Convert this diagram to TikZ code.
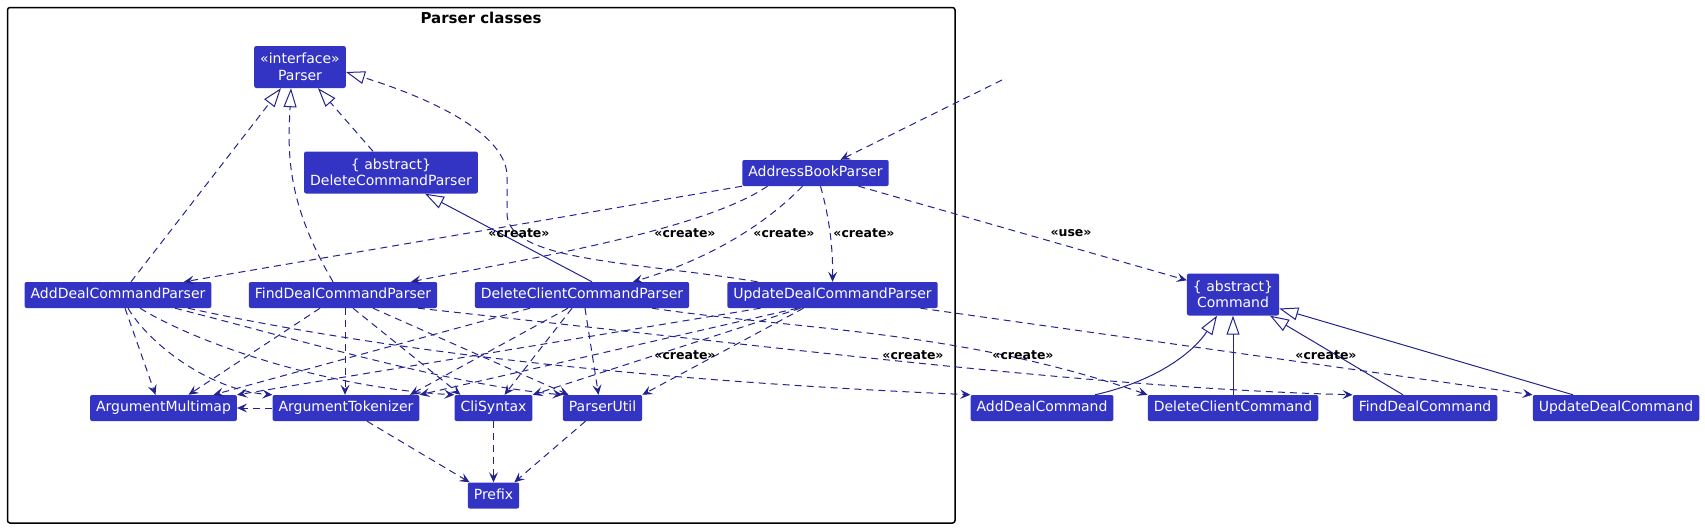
\documentclass[tikz,border=0pt]{standalone}
\usepackage{fontspec}
\setmainfont{DejaVu Sans}
\definecolor{boxblue}{HTML}{3333C4}
\definecolor{linkblue}{HTML}{23238F}
\usetikzlibrary{calc, arrows.meta}

\begin{document}
\begin{tikzpicture}[x=1pt, y=-1pt,
  base/.style={fill=boxblue, text=white, rounded corners=2pt, inner xsep=6pt,
               inner ysep=4pt, align=center, font=\fontsize{14}{16.5}\selectfont},
  cls/.style={base, minimum height=26pt, text height=10.5pt, text depth=3pt},
  abscls/.style={base, minimum height=42pt},
  lbl/.style={font=\bfseries\fontsize{12.5}{14}\selectfont},
  dep/.style={linkblue, line width=1pt, dash pattern=on 7pt off 5pt,
              -{Stealth[length=10pt, width=9pt, inset=4pt]}},
  impl/.style={linkblue, line width=1pt, dash pattern=on 7pt off 5pt,
               -{Triangle[open, length=19pt, width=13pt]}},
  ext/.style={linkblue, line width=1pt, -{Triangle[open, length=19pt, width=13pt]}},
]
\useasboundingbox (0,0) rectangle (1705,530);

\draw[black, line width=1.5pt, rounded corners=2.5pt] (7.5,7.5) rectangle (955,523);
\node[font=\bfseries\fontsize{15}{17}\selectfont] (title) at (481,18) {Parser classes};

\node[abscls] (parser) at (300,67) {«interface»\\Parser};
\node[abscls] (dcp) at (391,172.5) {\{ abstract\}\\DeleteCommandParser};
\node[cls] (abp) at (815.5,173) {AddressBookParser};
\coordinate (entry) at (1002,80);

\node[cls] (adcp) at (118,295) {AddDealCommandParser};
\node[cls] (fdcp) at (343,295) {FindDealCommandParser};
\node[cls] (dccp) at (582,295) {DeleteClientCommandParser};
\node[cls] (udcp) at (832.5,295) {UpdateDealCommandParser};

\node[cls] (am) at (163.5,408) {ArgumentMultimap};
\node[cls] (at) at (346,408) {ArgumentTokenizer};
\node[cls] (cs) at (493.5,408) {CliSyntax};
\node[cls] (pu) at (602.5,408) {ParserUtil};
\node[cls] (prefix) at (493.5,495.5) {Prefix};

\node[abscls] (cmd) at (1233,294.5) {\{ abstract\}\\Command};
\node[cls] (adc) at (1042,408) {AddDealCommand};
\node[cls] (dcc) at (1233,408) {DeleteClientCommand};
\node[cls] (fdc) at (1425,408) {FindDealCommand};
\node[cls] (udc) at (1616,408) {UpdateDealCommand};

\draw[impl] ([xshift=13pt]adcp.north) -- ([xshift=-19pt]parser.south);
\draw[impl] ([xshift=-10pt]fdcp.north) .. controls (285,200) and (288,150) .. ([xshift=-9pt]parser.south);
\draw[impl] ([xshift=-18pt]dcp.north) -- ([xshift=18pt]parser.south);
\draw[impl] ([xshift=-75pt]udcp.north) .. controls (640,262) and (510,262) .. (507,215)
  -- (507,175) .. controls (505,130) and (420,95) .. ([yshift=-5pt]parser.east);
\draw[ext] ([xshift=10pt]dccp.north) -- ([xshift=34pt]dcp.south);

\draw[dep] (entry) -- ([xshift=25pt]abp.north);
\draw[dep] (abp.south west) -- ([xshift=66pt]adcp.north);
\draw[dep] ([xshift=-48pt]abp.south) .. controls (700,232) and (510,262) .. ([xshift=68pt]fdcp.north);
\draw[dep] ([xshift=-13pt]abp.south) .. controls (760,230) and (700,262) .. ([xshift=51pt]dccp.north);
\draw[dep] ([xshift=5pt]abp.south) .. controls (830,220) and (833,250) .. (udcp.north);
\draw[dep] ([xshift=43pt]abp.south) -- ([yshift=-7pt]cmd.north west);

\draw[dep] ([xshift=7pt]adcp.south) -- ([xshift=-8pt]am.north);
\draw[dep] ([xshift=10pt]adcp.south) .. controls (150,345) and (210,390) .. (at.north west);
\draw[dep] ([xshift=22pt]adcp.south) .. controls (200,345) and (330,388) .. (cs.north west);
\draw[dep] ([xshift=57pt]adcp.south) .. controls (300,340) and (450,385) .. (pu.north west);
\draw[dep] ([xshift=70pt]adcp.south) .. controls (450,365) and (750,385) .. (adc.north west);

\draw[dep] ([xshift=-23pt]fdcp.south) -- ([xshift=25pt]am.north);
\draw[dep] ([xshift=2pt]fdcp.south) -- ([xshift=-1pt]at.north);
\draw[dep] ([xshift=10pt]fdcp.south) -- ([xshift=-33pt]cs.north);
\draw[dep] ([xshift=30pt]fdcp.south) -- ([xshift=-34pt]pu.north);
\draw[dep] ([xshift=75pt]fdcp.south) .. controls (800,350) and (1100,388) .. (fdc.north west);

\draw[dep] ([xshift=-52pt]dccp.south) -- ([xshift=50pt]am.north);
\draw[dep] ([xshift=-14pt]dccp.south) -- ([xshift=64pt]at.north);
\draw[dep] ([xshift=-10pt]dccp.south) -- ([xshift=11pt]cs.north);
\draw[dep] ([xshift=3pt]dccp.south) -- ([xshift=-4pt]pu.north);
\draw[dep] ([xshift=70pt]dccp.south) .. controls (800,330) and (960,330) .. (dcc.north west);

\draw[dep] ([xshift=-72pt]udcp.south) -- (am.north east);
\draw[dep] ([xshift=-35pt]udcp.south) -- (at.north east);
\draw[dep] ([xshift=-32pt]udcp.south) -- (cs.north east);
\draw[dep] ([xshift=-29pt]udcp.south) -- (pu.north east);
\draw[dep] ([xshift=88pt]udcp.south) -- (udc.north west);

\draw[dep] (at.west) -- (am.east);
\draw[dep] ([xshift=21pt]at.south) -- ([xshift=2pt]prefix.north west);
\draw[dep] (cs.south) -- (prefix.north);
\draw[dep] ([xshift=-17pt]pu.south) -- ([xshift=-5pt]prefix.north east);

\draw[ext] ([xshift=53pt]adc.north) .. controls (1160,380) and (1195,350) .. ([xshift=-16pt]cmd.south);
\draw[ext] (dcc.north) -- (cmd.south);
\draw[ext] ([xshift=-22pt]fdc.north) -- ([xshift=37pt]cmd.south);
\draw[ext] ([xshift=-43pt]udc.north) -- ([yshift=-14pt]cmd.east);

\node[lbl] (lcadd) at (519,233) {«create»};
\node[lbl] (lcfind) at (685,233) {«create»};
\node[lbl] (lcdel) at (784,233) {«create»};
\node[lbl] (lcupd) at (864,233) {«create»};
\node[lbl] (luse) at (1071,233) {«use»};
\node[lbl] (lcaddcmd) at (685,355) {«create»};
\node[lbl] (lcfindcmd) at (913,355) {«create»};
\node[lbl] (lcdelcmd) at (1023,355) {«create»};
\node[lbl] (lcupdcmd) at (1326,355) {«create»};
\end{tikzpicture}
\end{document}
